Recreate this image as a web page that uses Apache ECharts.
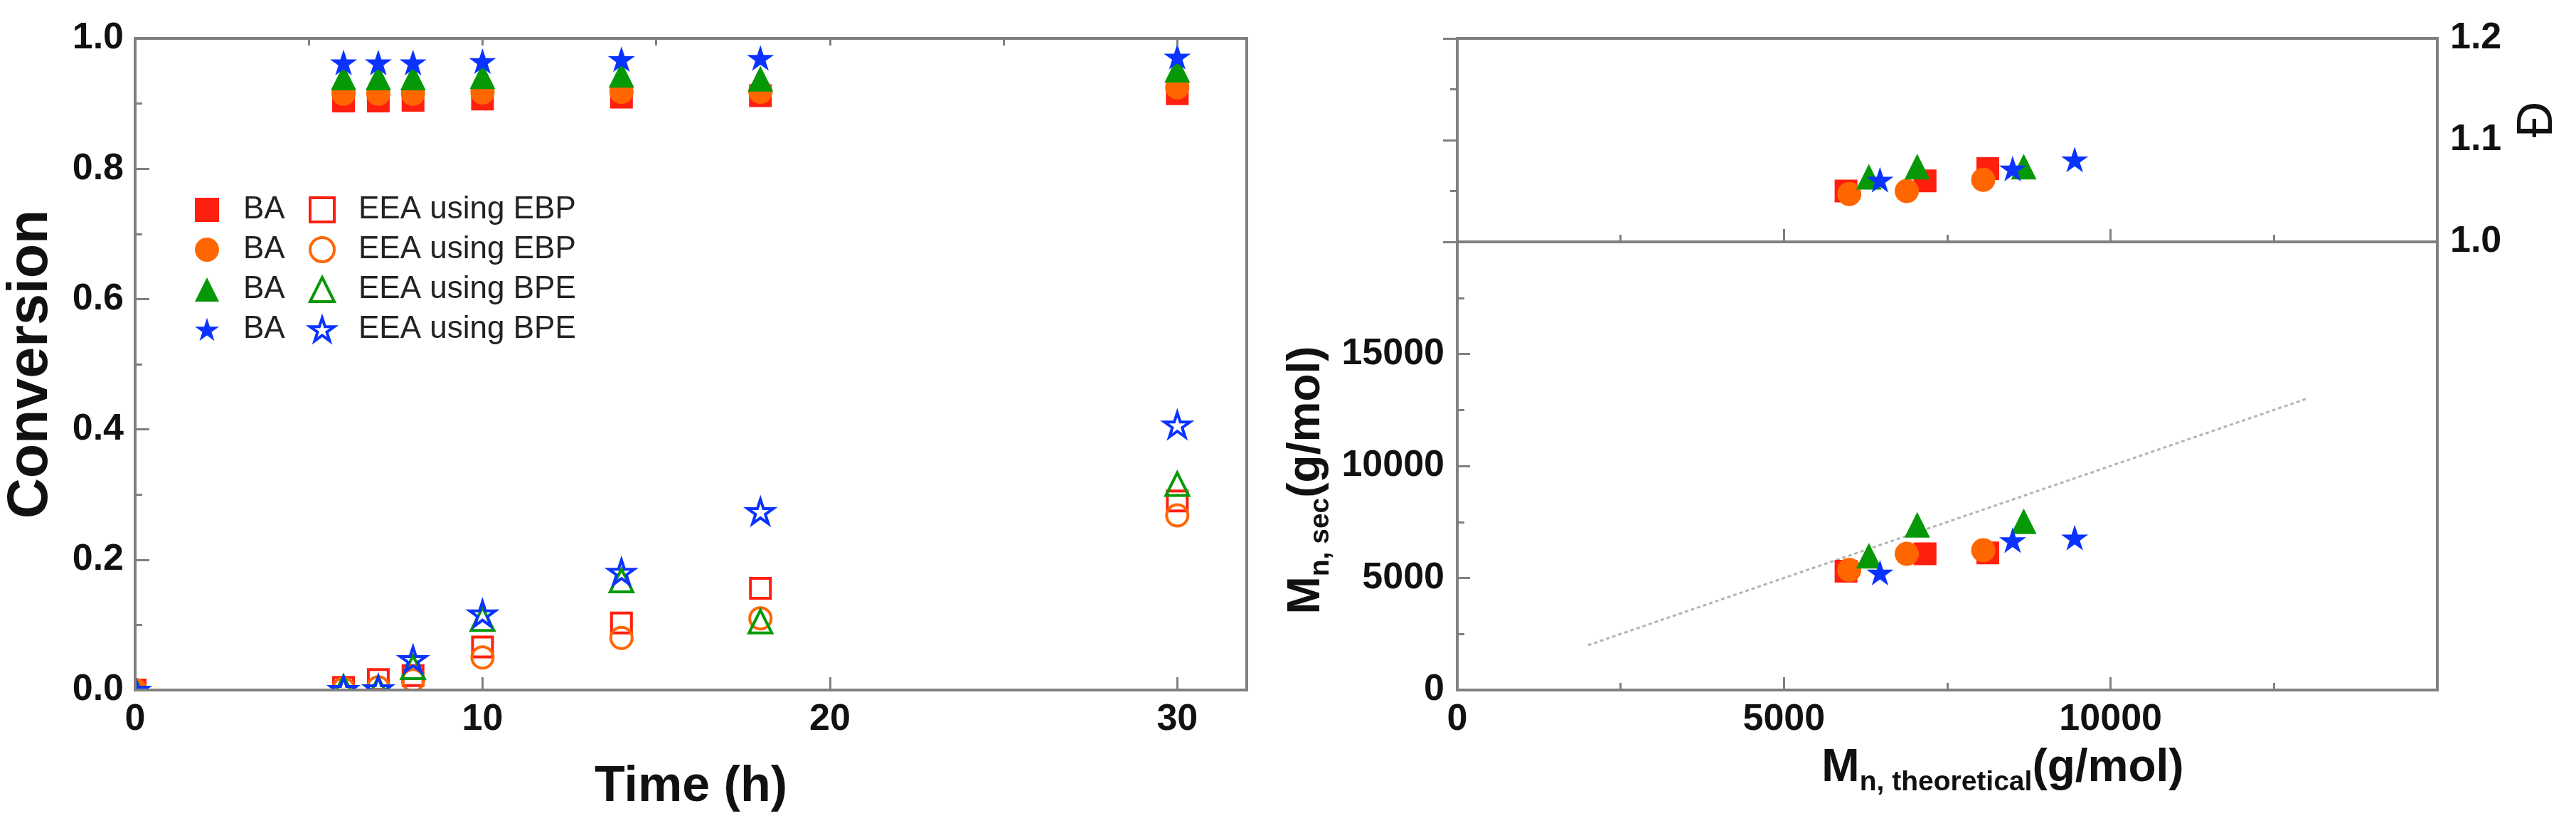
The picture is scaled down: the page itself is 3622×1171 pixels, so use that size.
<!DOCTYPE html>
<html>
<head>
<meta charset="utf-8">
<script src="https://cdn.jsdelivr.net/npm/echarts@6/dist/echarts.min.js"></script>
<style>
html, body { margin: 0; padding: 0; background: #fff; }
#main { width: 3622px; height: 1171px; }
</style>
</head>
<body>
<div id="main"></div>
<script>
// left panel: conversion vs time
var timeH = [0, 6, 7, 8, 10, 14, 18, 30];
var baSquare = [0, 0.904, 0.904, 0.905, 0.907, 0.910, 0.912, 0.915];
var baCircle = [0, 0.915, 0.915, 0.915, 0.917, 0.918, 0.918, 0.925];
var baTriangle = [0, 0.940, 0.940, 0.940, 0.942, 0.944, 0.938, 0.952];
var baStar = [0, 0.963, 0.963, 0.963, 0.965, 0.968, 0.970, 0.972];
var eeaSquare = [0, 0.004, 0.016, 0.022, 0.066, 0.103, 0.156, 0.290];
var eeaCircle = [0, 0.002, 0.004, 0.015, 0.050, 0.080, 0.110, 0.268];
var eeaTriangle = [0, 0.004, 0.002, 0.035, 0.109, 0.168, 0.105, 0.316];
var eeaStar = [0, 0.001, 0.002, 0.047, 0.117, 0.181, 0.274, 0.407];

// right panel: Mn,theoretical vs dispersity (top) and Mn,sec (bottom)
var theoSquare = [5950, 7160, 8120];
var dispSquare = [1.050, 1.060, 1.072];
var secSquare = [5300, 6080, 6120];
var theoCircle = [6000, 6880, 8050];
var dispCircle = [1.047, 1.050, 1.061];
var secCircle = [5360, 6080, 6240];
var theoTriangle = [6300, 7040, 8670];
var dispTriangle = [1.064, 1.074, 1.074];
var secTriangle = [5990, 7370, 7530];
var theoStar = [6470, 8500, 9450];
var dispStar = [1.061, 1.072, 1.081];
var secStar = [5240, 6680, 6800];
var idealLine = [2000, 13000];

var FONT = "'Liberation Sans', Arial, sans-serif";
var GRAY = '#808080';
var RED = '#ff1f0f', ORANGE = '#ff6600', GREEN = '#079807', BLUE = '#0a33ff';
var STAR = 'path://M50,2 L61.2,36.5 L97.6,36.5 L68.2,57.8 L79.4,92.4 L50,71 L20.6,92.4 L31.8,57.8 L2.4,36.5 L38.8,36.5 Z';

function pts(xs, ys) {
    return xs.map(function (x, i) { return [x, ys[i]]; });
}

function mark(name, xi, yi, data, shape, color, size, hollow) {
    return {
        name: name,
        type: 'scatter',
        xAxisIndex: xi,
        yAxisIndex: yi,
        data: data,
        symbol: shape,
        symbolSize: size,
        symbolKeepAspect: true,
        itemStyle: hollow
            ? {color: 'rgba(255,255,255,0)', borderColor: color, borderWidth: 4, opacity: 1}
            : {color: color, borderWidth: 0, opacity: 1},
        emphasis: {disabled: true},
        z: 2
    };
}

var plain = function (v) { return String(v); };
var oneDec = function (v) { return v.toFixed(1); };
var tickLabel = {fontSize: 52, fontWeight: 'bold', color: '#111', fontFamily: FONT};
var axisLine = {show: true, lineStyle: {color: GRAY, width: 4}};
var majorTick = function (len) {
    return {show: true, inside: true, length: len, lineStyle: {color: GRAY, width: 3}};
};
var minorTick = {show: true, splitNumber: 2, length: 10, lineStyle: {color: GRAY, width: 3}};

var subName = {
    m: {fontSize: 64, fontWeight: 'bold', color: '#111', fontFamily: FONT, lineHeight: 80},
    s: {fontSize: 39, fontWeight: 'bold', color: '#111', fontFamily: FONT, lineHeight: 38, verticalAlign: 'bottom'}
};

var legendBase = {
    orient: 'vertical',
    itemWidth: 34,
    itemHeight: 34,
    itemGap: 12,
    selectedMode: false,
    formatter: function (n) { return n.split('#')[0]; },
    textStyle: {fontSize: 44, color: '#222', fontFamily: FONT, padding: [0, 0, 0, 29]}
};

var option = {
    backgroundColor: '#fff',
    animation: false,
    grid: [
        {left: 190, top: 54, width: 1563, height: 916, show: true, borderColor: GRAY, borderWidth: 4},
        {left: 2049, top: 54, width: 1378, height: 286, show: true, borderColor: GRAY, borderWidth: 4},
        {left: 2049, top: 340, width: 1378, height: 630, show: true, borderColor: GRAY, borderWidth: 4}
    ],
    legend: [
        Object.assign({}, legendBase, {
            left: 269, top: 268,
            data: ['BA#1', 'BA#2', 'BA#3', 'BA#4']
        }),
        Object.assign({}, legendBase, {
            left: 429, top: 268,
            data: [
                {name: 'EEA using EBP#1', itemStyle: {borderWidth: 4}},
                {name: 'EEA using EBP#2', itemStyle: {borderWidth: 4}},
                {name: 'EEA using BPE#3', itemStyle: {borderWidth: 4}},
                {name: 'EEA using BPE#4', itemStyle: {borderWidth: 4}}
            ]
        })
    ],
    xAxis: [
        {
            gridIndex: 0, type: 'value', min: 0, max: 32, interval: 10, z: 5,
            axisLine: axisLine, axisTick: majorTick(18), splitLine: {show: false},
            axisLabel: Object.assign({margin: 16, showMaxLabel: false, formatter: plain}, tickLabel),
            name: 'Time (h)', nameLocation: 'middle', nameGap: 102, nameMoveOverlap: false,
            nameTextStyle: {fontSize: 70, fontWeight: 'bold', color: '#111', fontFamily: FONT}
        },
        {
            // minor ticks of the time axis
            gridIndex: 0, type: 'value', min: 0, max: 32, interval: 5, z: 5,
            axisLine: {show: false}, axisTick: majorTick(10), splitLine: {show: false},
            axisLabel: {show: false}
        },
        {
            gridIndex: 1, type: 'value', min: 0, max: 15000, interval: 5000, z: 5,
            axisLine: axisLine, axisTick: majorTick(18), minorTick: minorTick,
            splitLine: {show: false}, minorSplitLine: {show: false},
            axisLabel: {show: false}
        },
        {
            gridIndex: 2, type: 'value', min: 0, max: 15000, interval: 5000, z: 5,
            axisLine: axisLine, axisTick: majorTick(18), minorTick: minorTick,
            splitLine: {show: false}, minorSplitLine: {show: false},
            axisLabel: Object.assign({margin: 16, showMaxLabel: false, formatter: plain}, tickLabel),
            name: '{m|M}{s|n, theoretical}{m|(g/mol)}', nameLocation: 'middle', nameGap: 70, nameMoveOverlap: false,
            nameTextStyle: {rich: subName, padding: [0, 0, 0, 156]}
        }
    ],
    yAxis: [
        {
            gridIndex: 0, type: 'value', min: 0, max: 1, interval: 0.2, z: 5,
            axisLine: axisLine, axisTick: majorTick(20), minorTick: minorTick,
            splitLine: {show: false}, minorSplitLine: {show: false},
            axisLabel: Object.assign({margin: 16, formatter: oneDec}, tickLabel),
            name: 'Conversion', nameLocation: 'middle', nameGap: 106, nameMoveOverlap: false,
            nameTextStyle: {fontSize: 79, fontWeight: 'bold', color: '#111', fontFamily: FONT}
        },
        {
            gridIndex: 1, type: 'value', position: 'right', min: 1.0, max: 1.2, interval: 0.1, z: 5,
            axisLine: axisLine, axisTick: majorTick(20), minorTick: minorTick,
            splitLine: {show: false}, minorSplitLine: {show: false},
            axisLabel: Object.assign({margin: 18, formatter: oneDec}, tickLabel)
        },
        {
            gridIndex: 2, type: 'value', min: 0, max: 20000, interval: 5000, z: 5,
            axisLine: axisLine, axisTick: majorTick(18), minorTick: minorTick,
            splitLine: {show: false}, minorSplitLine: {show: false},
            axisLabel: Object.assign({margin: 18, showMaxLabel: false, formatter: plain}, tickLabel),
            name: '{m|M}{s|n, sec}{m|(g/mol)}', nameLocation: 'middle', nameGap: 172, nameMoveOverlap: false,
            nameTextStyle: {rich: subName, padding: [0, 40, 0, 0]}
        }
    ],
    graphic: [
        // white strips outside the left plot so markers sitting on the axes look clipped
        {type: 'rect', z: 3, silent: true, shape: {x: 130, y: 972, width: 1640, height: 34}, style: {fill: '#fff'}},
        {type: 'rect', z: 3, silent: true, shape: {x: 130, y: 30, width: 58, height: 976}, style: {fill: '#fff'}},
        // dispersity axis title
        {type: 'text', z: 6, silent: true, x: 3569, y: 168, rotation: Math.PI / 2,
            style: {text: 'Đ', fontSize: 70, fontFamily: FONT, fill: '#111', align: 'center', verticalAlign: 'middle'}}
    ],
    series: [
        mark('BA#1', 0, 0, pts(timeH, baSquare), 'rect', RED, 32, false),
        mark('BA#2', 0, 0, pts(timeH, baCircle), 'circle', ORANGE, 34, false),
        mark('BA#3', 0, 0, pts(timeH, baTriangle), 'triangle', GREEN, 36, false),
        mark('BA#4', 0, 0, pts(timeH, baStar), STAR, BLUE, 38, false),
        mark('EEA using EBP#1', 0, 0, pts(timeH, eeaSquare), 'rect', RED, 28, true),
        mark('EEA using EBP#2', 0, 0, pts(timeH, eeaCircle), 'circle', ORANGE, 30, true),
        mark('EEA using BPE#3', 0, 0, pts(timeH, eeaTriangle), 'triangle', GREEN, 32, true),
        mark('EEA using BPE#4', 0, 0, pts(timeH, eeaStar), STAR, BLUE, 36, true),

        mark('dSq', 2, 1, pts(theoSquare, dispSquare), 'rect', RED, 32, false),
        mark('dCi', 2, 1, pts(theoCircle, dispCircle), 'circle', ORANGE, 34, false),
        mark('dTr', 2, 1, pts(theoTriangle, dispTriangle), 'triangle', GREEN, 36, false),
        mark('dSt', 2, 1, pts(theoStar, dispStar), STAR, BLUE, 38, false),

        {
            name: 'ideal', type: 'line', xAxisIndex: 3, yAxisIndex: 2,
            data: pts(idealLine, idealLine), symbol: 'none', silent: true,
            lineStyle: {color: '#b4b4b4', width: 3, type: [5, 4]}, z: 1
        },
        mark('sSq', 3, 2, pts(theoSquare, secSquare), 'rect', RED, 32, false),
        mark('sCi', 3, 2, pts(theoCircle, secCircle), 'circle', ORANGE, 34, false),
        mark('sTr', 3, 2, pts(theoTriangle, secTriangle), 'triangle', GREEN, 36, false),
        mark('sSt', 3, 2, pts(theoStar, secStar), STAR, BLUE, 38, false)
    ]
};

var chart = echarts.init(document.getElementById('main'), null, {renderer: 'canvas'});
chart.setOption(option);
</script>
</body>
</html>
